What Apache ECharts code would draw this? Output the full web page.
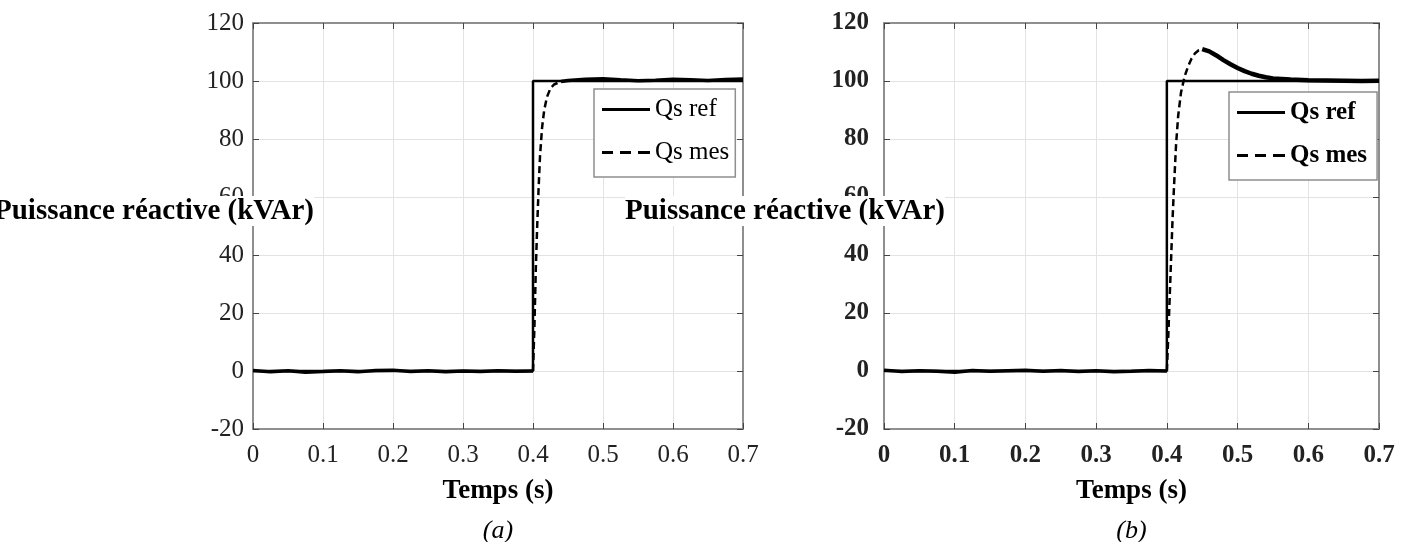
<!DOCTYPE html>
<html>
<head>
<meta charset="utf-8">
<script src="https://cdn.jsdelivr.net/npm/echarts@6/dist/echarts.min.js"></script>
<style>
  html, body { margin: 0; padding: 0; background: #fff; }
  #chart { width: 1403px; height: 542px; }
</style>
</head>
<body>
<div id="chart"></div>
<script>
// tick labels
const xTickLabels = ['0', '0.1', '0.2', '0.3', '0.4', '0.5', '0.6', '0.7']
const yTickLabels = ['-20', '0', '20', '40', '60', '80', '100', '120']

// reference step (same for both panels)
const refTime = [0, 0.4, 0.4, 0.7]
const refValue = [0, 0, 100, 100]

// (a) measured reactive power
const mesATime = [0, 0.025, 0.05, 0.075, 0.1, 0.125, 0.15, 0.175, 0.2, 0.225, 0.25, 0.275, 0.3, 0.325, 0.35, 0.375, 0.4,
  0.402, 0.404, 0.406, 0.408, 0.41, 0.413, 0.416, 0.42, 0.425, 0.43, 0.44,
  0.45, 0.475, 0.5, 0.525, 0.55, 0.575, 0.6, 0.625, 0.65, 0.675, 0.7]
const mesAValue = [0.2, -0.3, 0.1, -0.4, -0.2, 0.1, -0.3, 0.2, 0.3, -0.2, 0.1, -0.3, 0.0, -0.2, 0.1, -0.1, 0,
  15, 35, 50, 63, 74, 84, 90, 94.5, 97.5, 98.8, 99.8,
  100.2, 100.6, 100.8, 100.4, 100.1, 100.3, 100.6, 100.4, 100.2, 100.5, 100.7]

// (b) measured reactive power
const mesBTime = [0, 0.025, 0.05, 0.075, 0.1, 0.125, 0.15, 0.175, 0.2, 0.225, 0.25, 0.275, 0.3, 0.325, 0.35, 0.375, 0.4,
  0.402, 0.405, 0.408, 0.41, 0.413, 0.416, 0.42, 0.425, 0.43, 0.435, 0.44, 0.445, 0.45,
  0.46, 0.47, 0.48, 0.49, 0.5, 0.51, 0.52, 0.53, 0.54, 0.55, 0.575, 0.6, 0.625, 0.65, 0.675, 0.7]
const mesBValue = [0.3, -0.2, 0.1, -0.1, -0.4, 0.2, -0.1, 0.1, 0.3, -0.1, 0.2, -0.2, 0.1, -0.3, -0.1, 0.2, 0,
  12, 32, 52, 63, 78, 88, 96, 101.5, 105, 107.8, 109.6, 110.6, 111,
  110.2, 108.8, 107.2, 105.8, 104.5, 103.4, 102.5, 101.8, 101.3, 100.9, 100.5, 100.3, 100.2, 100.1, 100.0, 100.1]

const FONT = '"Liberation Serif", "Times New Roman", serif'
const AXIS_COLOR = '#8f8f8f'
const GRID_COLOR = '#e3e3e3'

// legend icons: a plain solid bar and three dashes
const SOLID_ICON = 'path://M0,0H48V3H0Z'
const DASH_ICON = 'path://M0,0H11V3H0Z M18,0H29V3H18Z M36,0H48V3H36Z'

const zip = (t, v) => t.map((x, i) => [x, v[i]])
// split a measured trace into before-step, rising (dashed) and settled parts
const split = (t, v, riseEnd) => {
  const pts = zip(t, v)
  return {
    pre: pts.filter(p => p[0] <= 0.4),
    rise: pts.filter(p => p[0] >= 0.4 && p[0] <= riseEnd),
    post: pts.filter(p => p[0] >= riseEnd)
  }
}

const panels = [
  { grid: { left: 253, top: 23, width: 490, height: 406 }, bold: false, tag: '(a)', mes: split(mesATime, mesAValue, 0.44), postWidth: 3.5 },
  { grid: { left: 884, top: 23, width: 495, height: 406 }, bold: true, tag: '(b)', mes: split(mesBTime, mesBValue, 0.45), postWidth: 4.5 }
]

const xAxis = []
const yAxis = []
const series = []

panels.forEach((p, g) => {
  const weight = p.bold ? 'bold' : 'normal'
  const line = { show: true, onZero: false, lineStyle: { color: AXIS_COLOR, width: 2 } }
  const tick = { show: true, inside: true, length: 6, lineStyle: { color: '#444', width: 1 } }
  const label = { fontFamily: FONT, fontSize: 25, fontWeight: weight, color: '#222' }

  xAxis.push({
    type: 'value', gridIndex: g, min: 0, max: 0.7, interval: 0.1, position: 'bottom',
    name: '{t|Temps (s)}\n{c|' + p.tag + '}', nameLocation: 'middle', nameGap: 46,
    nameMoveOverlap: false,
    nameTextStyle: {
      rich: {
        t: { fontFamily: FONT, fontSize: 27, fontWeight: 'bold', color: '#000', lineHeight: 32 },
        c: { fontFamily: FONT, fontSize: 26, fontStyle: 'italic', color: '#000', lineHeight: 48 }
      }
    },
    axisLine: line, axisTick: tick,
    axisLabel: { ...label, margin: 14, formatter: v => xTickLabels[Math.round(v * 10)] },
    splitLine: { show: true, lineStyle: { color: GRID_COLOR, width: 1 } }
  })
  xAxis.push({
    type: 'value', gridIndex: g, min: 0, max: 0.7, interval: 0.1, position: 'top',
    axisLine: line, axisTick: tick, axisLabel: { show: false }, splitLine: { show: false }
  })

  yAxis.push({
    type: 'value', gridIndex: g, min: -20, max: 120, interval: 20, position: 'left',
    axisLine: line, axisTick: tick,
    axisLabel: { ...label, margin: p.bold ? 15 : 9, formatter: v => yTickLabels[Math.round((v + 20) / 20)] },
    splitLine: { show: true, lineStyle: { color: GRID_COLOR, width: 1 } }
  })
  yAxis.push({
    type: 'value', gridIndex: g, min: -20, max: 120, interval: 20, position: 'right',
    axisLine: line, axisTick: tick, axisLabel: { show: false }, splitLine: { show: false }
  })
  // the axis title sits on a white box above labels and frame, as in the source figure
  yAxis.push({
    type: 'value', gridIndex: g, min: -20, max: 120, interval: 20, position: 'left', z: 10,
    name: 'Puissance réactive (kVAr)', nameLocation: 'middle', nameRotate: 0, nameGap: -61,
    nameMoveOverlap: false,
    nameTextStyle: {
      fontFamily: FONT, fontSize: 29, fontWeight: 'bold', color: '#000',
      align: 'right', verticalAlign: 'bottom', backgroundColor: '#fff', padding: [1, 0, 0, 0]
    },
    axisLine: { show: false }, axisTick: { show: false }, axisLabel: { show: false }, splitLine: { show: false }
  })

  const axes = { xAxisIndex: g * 2, yAxisIndex: g * 3 }
  series.push({
    name: 'Qs ref', type: 'line', ...axes, symbol: 'none', silent: true,
    data: zip(refTime, refValue), lineStyle: { color: '#000', width: 2.5 }, itemStyle: { color: '#000' }
  })
  series.push({
    name: 'Qs mes', type: 'line', ...axes, symbol: 'none', silent: true,
    data: p.mes.rise, lineStyle: { color: '#000', width: 2.5, type: [7, 4] }, itemStyle: { color: '#000' }
  })
  series.push({
    name: 'Qs mes', type: 'line', ...axes, symbol: 'none', silent: true,
    data: p.mes.pre, lineStyle: { color: '#000', width: 3.5 }, itemStyle: { color: '#000' }
  })
  series.push({
    name: 'Qs mes', type: 'line', ...axes, symbol: 'none', silent: true,
    data: p.mes.post, lineStyle: { color: '#000', width: p.postWidth }, itemStyle: { color: '#000' }
  })
})

const legendBase = {
  orient: 'vertical', selectedMode: false,
  data: [{ name: 'Qs ref', icon: SOLID_ICON }, { name: 'Qs mes', icon: DASH_ICON }],
  itemWidth: 48, itemHeight: 3, itemGap: 14,
  itemStyle: { color: '#000', borderWidth: 0 },
  borderColor: AXIS_COLOR, borderWidth: 1.5, borderRadius: 0, backgroundColor: '#fff'
}

const chart = echarts.init(document.getElementById('chart'))
chart.setOption({
  animation: false,
  backgroundColor: '#fff',
  grid: panels.map(p => ({ ...p.grid, containLabel: false, outerBoundsMode: 'none' })),
  legend: [
    { ...legendBase, left: 594, top: 89, padding: [6, 6, 10, 8],
      textStyle: { fontFamily: FONT, fontSize: 25, color: '#000', lineHeight: 29 } },
    { ...legendBase, left: 1229, top: 92, padding: [6, 10, 10, 8],
      textStyle: { fontFamily: FONT, fontSize: 25, fontWeight: 'bold', color: '#000', lineHeight: 29 } }
  ],
  xAxis,
  yAxis,
  series
})
</script>
</body>
</html>
